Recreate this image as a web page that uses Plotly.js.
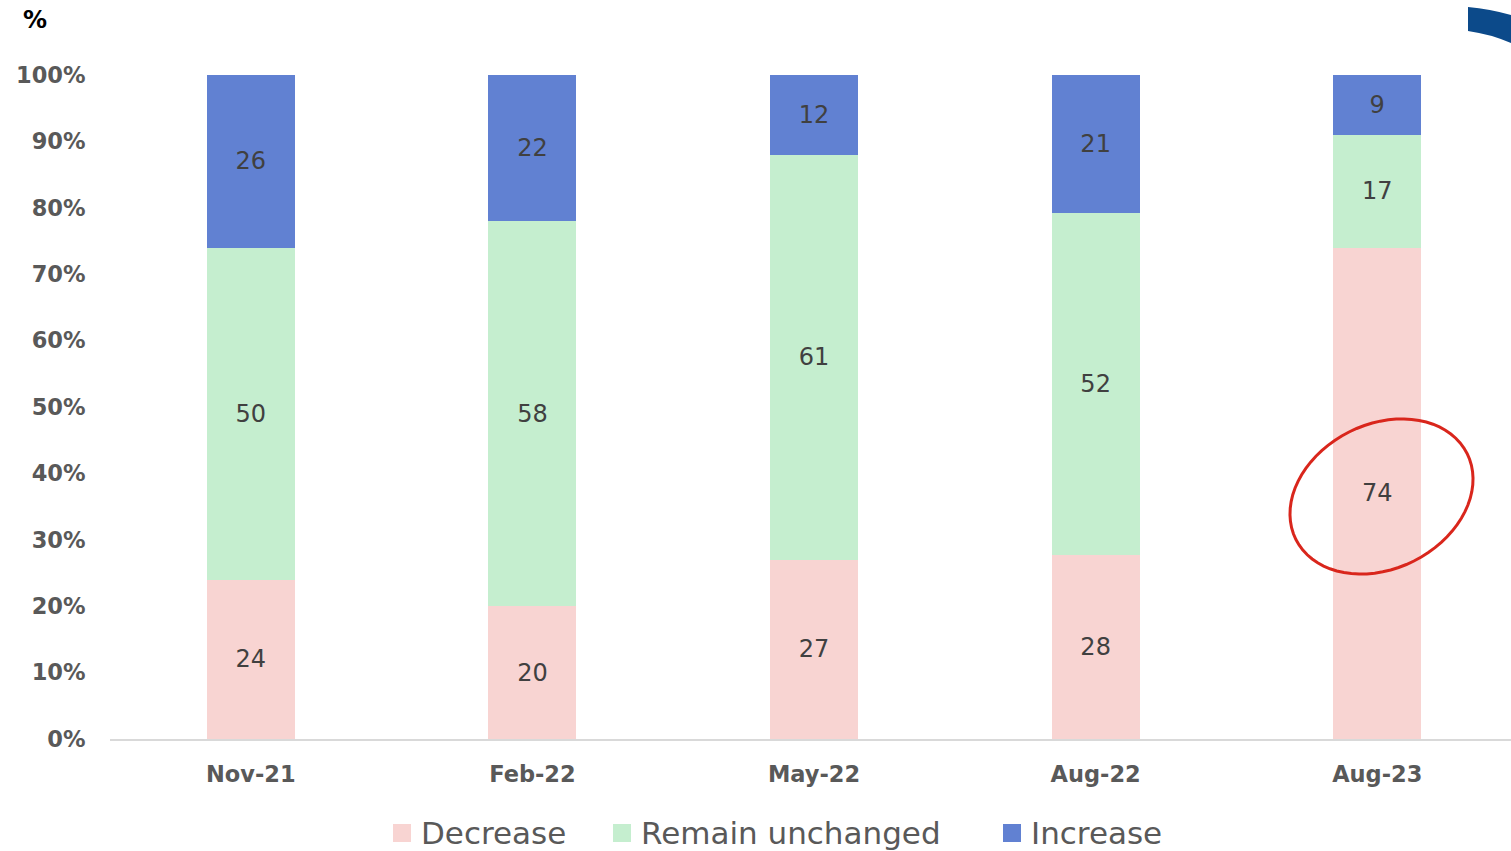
<!DOCTYPE html>
<html>
<head>
<meta charset="utf-8">
<script src="https://cdn.plot.ly/plotly-3.0.1.min.js"></script>
<style>html,body{margin:0;padding:0;background:#fff;}#chart{width:1511px;height:851px;}</style>
</head>
<body>
<div id="chart"></div>
<script>
var categories = ["Nov-21", "Feb-22", "May-22", "Aug-22", "Aug-23"];
var decrease = [24, 20, 27, 28, 74];
var remainUnchanged = [50, 58, 61, 52, 17];
var increase = [26, 22, 12, 21, 9];
var seriesNames = ["Decrease", "Remain unchanged", "Increase"];
var seriesColors = ["#f8d4d2", "#c5eecf", "#6181d2"];
var yTickVals = [0,10,20,30,40,50,60,70,80,90,100];

var FONT = "DejaVu Sans, sans-serif";
var M = {l:110, r:0, t:75, b:112, autoexpand: false};
var W = 1511, H = 851;
var PW = W - M.l - M.r, PH = H - M.t - M.b;
function px(x){ return (x - M.l) / PW; }
function py(y){ return (H - M.b - y) / PH; }

function mk(name, vals, color){
  return {
    type: "bar", name: name, x: categories, y: vals,
    text: vals.map(String), texttemplate: "%{text}",
    textposition: "inside", insidetextanchor: "middle",
    textfont: {family: FONT, size: 24, color: "#404040"},
    marker: {color: color, line: {width: 0}},
    hoverinfo: "x+y+name", showlegend: false
  };
}
var data = [
  mk(seriesNames[0], decrease, seriesColors[0]),
  mk(seriesNames[1], remainUnchanged, seriesColors[1]),
  mk(seriesNames[2], increase, seriesColors[2])
];

// ellipse around the highlighted label
var cx = 1381.5, cy = 496.5, ea = 95.8, eb = 72.2, th = 26.7 * Math.PI / 180;
var pts = [];
for (var i = 0; i <= 72; i++) {
  var t = i / 72 * 2 * Math.PI;
  var ex = cx + ea * Math.cos(t) * Math.cos(th) - eb * Math.sin(t) * Math.sin(th);
  var ey = cy - (ea * Math.cos(t) * Math.sin(th) + eb * Math.sin(t) * Math.cos(th));
  pts.push((i === 0 ? "M" : "L") + px(ex).toFixed(5) + "," + py(ey).toFixed(5));
}
var ellipsePath = pts.join(" ") + " Z";

var decoPath = "M" + px(1468) + "," + py(7) +
  " Q" + px(1490) + "," + py(9) + " " + px(1511) + "," + py(15) +
  " L" + px(1511) + "," + py(43) +
  " Q" + px(1490) + "," + py(34) + " " + px(1468) + "," + py(31) + " Z";

var shapes = [
  {type: "path", xref: "paper", yref: "paper", path: ellipsePath,
   line: {color: "#d9261c", width: 3}, fillcolor: "rgba(0,0,0,0)"},
  {type: "path", xref: "paper", yref: "paper", path: decoPath,
   line: {width: 0}, fillcolor: "#0c4a8a"}
];
var annotations = [{
  xref: "paper", yref: "paper", x: px(35), y: py(20), xanchor: "center", yanchor: "middle",
  text: "<b>%</b>", showarrow: false, font: {family: FONT, size: 24, color: "#000000"}
}];

// custom legend (larger square markers)
var legX = [393, 613, 1003];
for (var k = 0; k < 3; k++) {
  shapes.push({type: "rect", xref: "paper", yref: "paper",
    x0: px(legX[k]), x1: px(legX[k] + 18), y0: py(842), y1: py(824),
    line: {width: 0}, fillcolor: seriesColors[k]});
  annotations.push({xref: "paper", yref: "paper", x: px(legX[k] + 26), y: py(833),
    xanchor: "left", yanchor: "middle", showarrow: false, text: seriesNames[k],
    font: {family: FONT, size: 31, color: "#595959"}});
}

var layout = {
  width: W, height: H,
  margin: M,
  paper_bgcolor: "#ffffff", plot_bgcolor: "#ffffff",
  barmode: "stack", barnorm: "percent",
  bargap: 0.6875,
  showlegend: false,
  xaxis: {
    type: "category", range: [-0.5, 4.475],
    showline: true, linecolor: "#d9d9d9", linewidth: 2,
    showgrid: false, zeroline: false,
    ticks: "outside", ticklen: 14, tickcolor: "rgba(0,0,0,0)",
    tickfont: {family: FONT, size: 22.5, color: "#595959", weight: "bold"}
  },
  yaxis: {
    range: [0, 100], tickvals: yTickVals, ticktext: yTickVals.map(function(v){return v + "%";}),
    showline: false, showgrid: false, zeroline: false,
    ticks: "outside", ticklen: 19, tickcolor: "rgba(0,0,0,0)",
    tickfont: {family: FONT, size: 22.5, color: "#595959", weight: "bold"}
  },
  annotations: annotations,
  shapes: shapes
};

Plotly.newPlot("chart", data, layout, {displayModeBar: false, staticPlot: true});
</script>
</body>
</html>
